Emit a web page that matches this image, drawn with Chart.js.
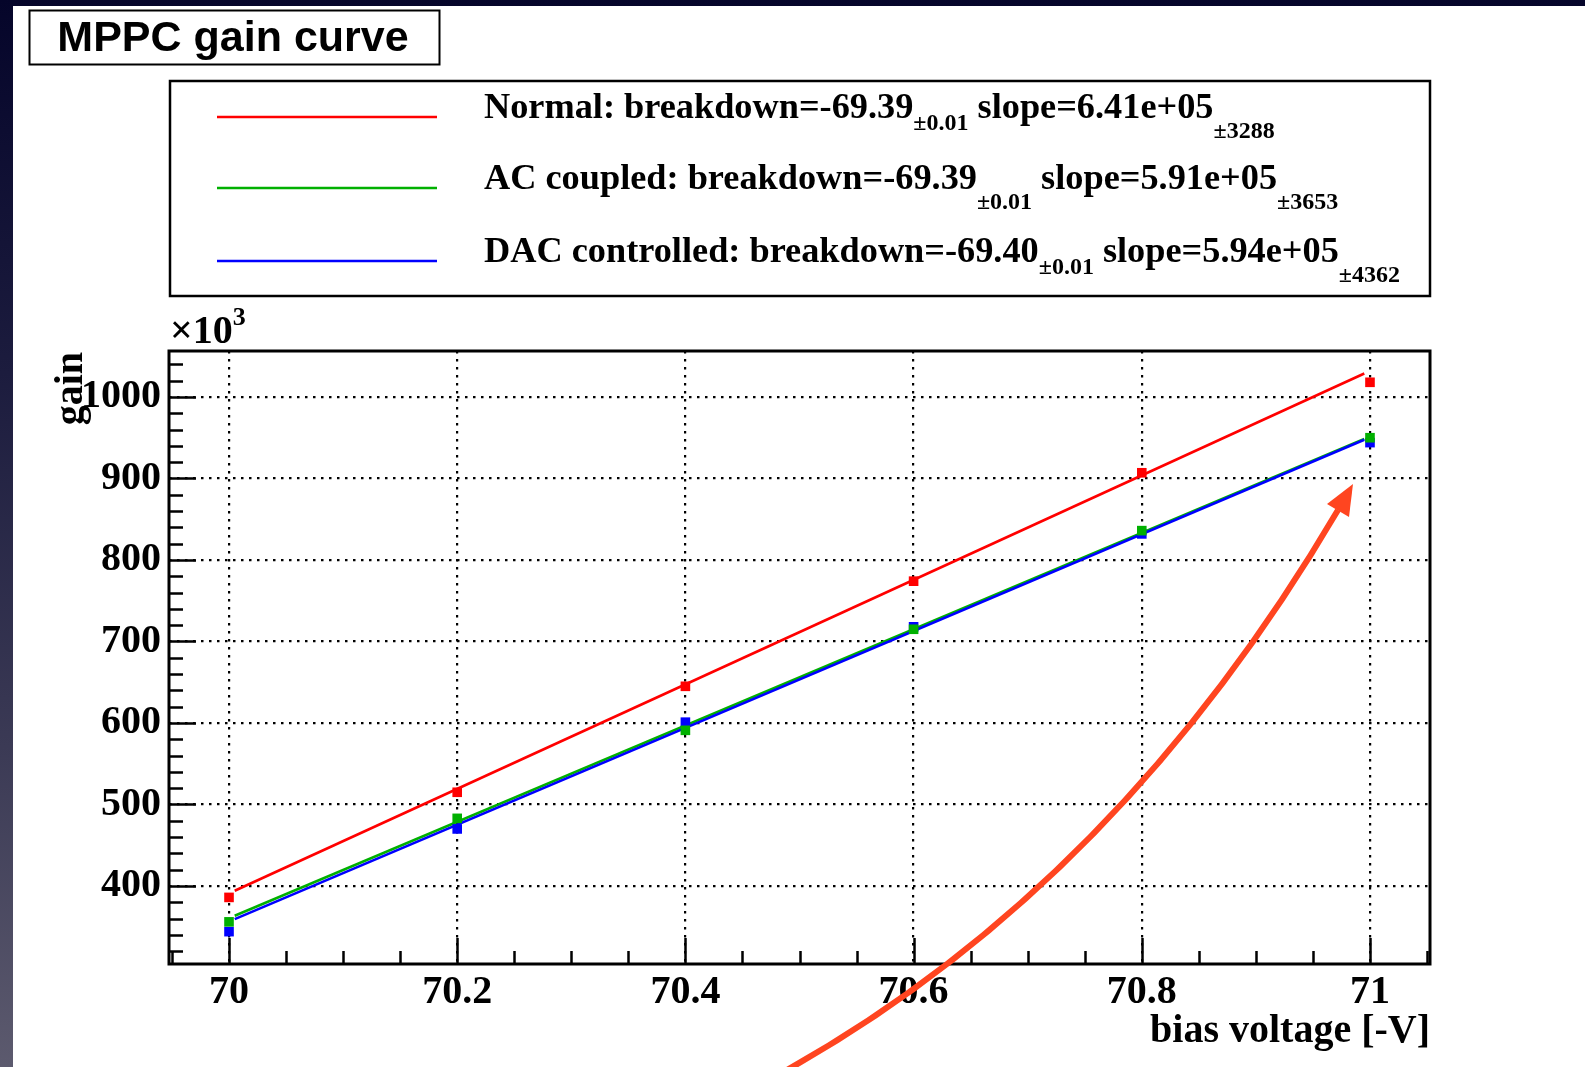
<!DOCTYPE html>
<html>
<head>
<meta charset="utf-8">
<title>MPPC gain curve</title>
<script src="https://cdn.jsdelivr.net/npm/chart.js@4.4.1/dist/chart.umd.min.js"></script>
<style>
  html, body { margin: 0; padding: 0; width: 1585px; height: 1067px; overflow: hidden; }
  body { position: relative; background: linear-gradient(to bottom, #05052a 0%, #1c1c3e 35%, #3b3a55 70%, #5c5a6e 100%); }
  #sheet { position: absolute; left: 13px; top: 6px; right: 0; bottom: 0; background: #fff; }
  #gainChart { position: absolute; left: 0; top: 0; }
</style>
</head>
<body>
<div id="sheet"></div>
<canvas id="gainChart" width="1585" height="1067"></canvas>
<script>
// bias voltage [-V] and measured gain (in units of 10^3) for the three readouts
const biasVoltage = [70, 70.2, 70.4, 70.6, 70.8, 71];
const gainNormal = [386, 515, 645, 774, 907, 1018];
const gainAC = [356, 483, 591, 715, 836, 950];
const gainDAC = [344, 470, 601, 718, 832, 944];

// linear fit results: gain = slope * (V + breakdown)
const seriesNames = ['Normal', 'AC coupled', 'DAC controlled'];
const breakdown = [-69.39, -69.39, -69.40];
const breakdownErr = [0.01, 0.01, 0.01];
const slope = [6.41e5, 5.91e5, 5.94e5];
const slopeErr = [3288, 3653, 4362];
const fitRange = [70.005, 70.995];

const xTicks = [70, 70.2, 70.4, 70.6, 70.8, 71];
const xTickLabels = ['70', '70.2', '70.4', '70.6', '70.8', '71'];
const yTicks = [400, 500, 600, 700, 800, 900, 1000];
const yTickLabels = ['400', '500', '600', '700', '800', '900', '1000'];

const colors = ['#ff0000', '#00b000', '#0000ff'];
const serif = '"Liberation Serif", "Times New Roman", serif';
const tickFont = { family: serif, size: 40, weight: 'bold' };

function sci(v) {
    const e = Math.floor(Math.log10(v));
    return (v / Math.pow(10, e)).toFixed(2) + 'e+' + String(e).padStart(2, '0');
}

function fitLine(i) {
    return fitRange.map(v => ({ x: v, y: slope[i] / 1000 * (v + breakdown[i]) }));
}

function points(vals) {
    return biasVoltage.map((v, i) => ({ x: v, y: vals[i] }));
}

// frame with inward ticks, title box, legend box, axis titles and the arrow
const decorations = {
    id: 'decorations',
    afterDatasetsDraw(chart) {
        const { ctx, chartArea: a, scales: { x, y } } = chart;
        ctx.save();
        ctx.strokeStyle = '#000';
        ctx.lineWidth = 2.5;
        ctx.beginPath();
        for (let i = -1; i <= 21; i++) {
            const v = 70 + i * 0.05;
            const px = Math.round(x.getPixelForValue(v)) + 0.5;
            const len = i % 4 === 0 ? 26 : 13;
            ctx.moveTo(px, a.bottom);
            ctx.lineTo(px, a.bottom - len);
        }
        for (let v = 320; v <= 1040; v += 20) {
            const py = Math.round(y.getPixelForValue(v)) + 0.5;
            const len = v % 100 === 0 ? 27 : 14;
            ctx.moveTo(a.left, py);
            ctx.lineTo(a.left + len, py);
        }
        ctx.stroke();
        ctx.lineWidth = 3;
        ctx.strokeRect(a.left, a.top, a.right - a.left, a.bottom - a.top);
        ctx.restore();
    },
    afterDraw(chart) {
        const { ctx, chartArea: a } = chart;
        ctx.save();
        ctx.fillStyle = '#000';
        ctx.strokeStyle = '#000';

        // title box
        ctx.lineWidth = 2;
        ctx.strokeRect(29.5, 10.5, 410, 54);
        ctx.font = 'bold 43px "Liberation Sans", Arial, sans-serif';
        ctx.textAlign = 'center';
        ctx.textBaseline = 'alphabetic';
        ctx.fillText('MPPC gain curve', 233, 51);

        // legend box
        ctx.lineWidth = 2.5;
        ctx.strokeRect(170, 81, a.right - 170, 215);
        const lineY = [117, 188, 261];
        const textY = [118, 189, 262];
        const drop1 = [12, 20, 12];
        const drop2 = [20, 20, 20];
        ctx.textAlign = 'left';
        seriesNames.forEach((name, i) => {
            ctx.strokeStyle = colors[i];
            ctx.lineWidth = 2.5;
            ctx.beginPath();
            ctx.moveTo(217, lineY[i]);
            ctx.lineTo(437, lineY[i]);
            ctx.stroke();

            let tx = 484;
            const main = name + ': breakdown=' + breakdown[i].toFixed(2);
            ctx.font = 'bold 36.3px ' + serif;
            ctx.fillText(main, tx, textY[i]);
            tx += ctx.measureText(main).width;
            const sub1 = '\u00b1' + breakdownErr[i].toFixed(2);
            ctx.font = 'bold 24px ' + serif;
            ctx.fillText(sub1, tx, textY[i] + drop1[i]);
            tx += ctx.measureText(sub1).width + 9;
            const s = 'slope=' + sci(slope[i]);
            ctx.font = 'bold 36.3px ' + serif;
            ctx.fillText(s, tx, textY[i]);
            tx += ctx.measureText(s).width;
            ctx.font = 'bold 24px ' + serif;
            ctx.fillText('\u00b1' + slopeErr[i], tx, textY[i] + drop2[i]);
        });

        // axis multiplier and titles
        ctx.font = 'bold 40px ' + serif;
        ctx.fillText('\u00d710', 170, 343);
        const w = ctx.measureText('\u00d710').width;
        ctx.font = 'bold 26px ' + serif;
        ctx.fillText('3', 170 + w, 325);

        ctx.font = 'bold 40px ' + serif;
        ctx.textAlign = 'right';
        ctx.fillText('bias voltage [-V]', a.right, 1042);
        ctx.save();
        ctx.translate(82, a.top + 1);
        ctx.rotate(-Math.PI / 2);
        ctx.fillText('gain', 0, 0);
        ctx.restore();

        // arrow pointing at the 71 V points
        ctx.strokeStyle = '#ff4520';
        ctx.fillStyle = '#ff4520';
        ctx.lineWidth = 6;
        ctx.beginPath();
        ctx.moveTo(778, 1075);
        ctx.quadraticCurveTo(1115, 889, 1338, 510);
        ctx.stroke();
        ctx.beginPath();
        ctx.moveTo(1353, 484);
        ctx.lineTo(1349, 517);
        ctx.lineTo(1327, 504);
        ctx.closePath();
        ctx.fill();
        ctx.restore();
    }
};

const markerStyle = { showLine: false, pointStyle: 'rect', pointRadius: 6.8, borderWidth: 0, order: 0 };

new Chart(document.getElementById('gainChart'), {
    type: 'scatter',
    data: {
        datasets: [
            { ...markerStyle, label: 'Normal', data: points(gainNormal), backgroundColor: colors[0], borderColor: colors[0] },
            { ...markerStyle, label: 'AC coupled', data: points(gainAC), backgroundColor: colors[1], borderColor: colors[1] },
            { ...markerStyle, label: 'DAC controlled', data: points(gainDAC), backgroundColor: colors[2], borderColor: colors[2] },
            { label: 'DAC fit', data: fitLine(2), showLine: true, pointRadius: 0, borderColor: colors[2], borderWidth: 2.6, order: 1 },
            { label: 'AC fit', data: fitLine(1), showLine: true, pointRadius: 0, borderColor: colors[1], borderWidth: 2.6, order: 2 },
            { label: 'Normal fit', data: fitLine(0), showLine: true, pointRadius: 0, borderColor: colors[0], borderWidth: 2.6, order: 3 }
        ]
    },
    options: {
        responsive: false,
        animation: false,
        devicePixelRatio: 1,
        layout: { padding: { left: 0, top: 351, right: 155, bottom: 0 } },
        plugins: { legend: { display: false }, tooltip: { enabled: false } },
        scales: {
            x: {
                type: 'linear',
                min: 69.9474,
                max: 71.0526,
                afterFit: s => { s.height = 103; },
                afterBuildTicks: s => { s.ticks = xTicks.map(v => ({ value: v })); },
                ticks: { callback: (v, i) => xTickLabels[i], font: tickFont, color: '#000', padding: 5, maxRotation: 0, autoSkip: false },
                grid: { color: '#000', lineWidth: 2.2, drawTicks: false },
                border: { display: false, dash: [2.5, 5.5] }
            },
            y: {
                type: 'linear',
                min: 304.3,
                max: 1056.4,
                afterFit: s => { s.width = 169; },
                afterBuildTicks: s => { s.ticks = yTicks.map(v => ({ value: v })); },
                ticks: { callback: (v, i) => yTickLabels[i], font: tickFont, color: '#000', padding: 8, autoSkip: false },
                grid: { color: '#000', lineWidth: 2.2, drawTicks: false },
                border: { display: false, dash: [2.5, 5.5] }
            }
        }
    },
    plugins: [decorations]
});
</script>
</body>
</html>
